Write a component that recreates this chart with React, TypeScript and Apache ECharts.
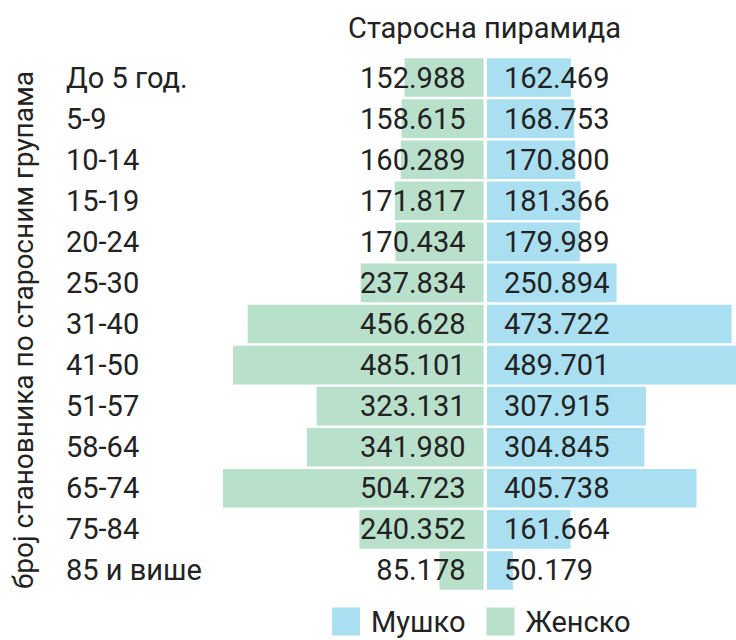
import React, { useEffect, useRef } from "react";
import * as echarts from "echarts";

const categories = ["До 5 год.", "5-9", "10-14", "15-19", "20-24", "25-30", "31-40", "41-50", "51-57", "58-64", "65-74", "75-84", "85 и више"];
const female = [152988, 158615, 160289, 171817, 170434, 237834, 456628, 485101, 323131, 341980, 504723, 240352, 85178];
const male = [162469, 168753, 170800, 181366, 179989, 250894, 473722, 489701, 307915, 304845, 405738, 161664, 50179];
const seriesNames = ["Мушко", "Женско"];
const titleText = "Старосна пирамида";
const axisName = "број становника по старосним групама";

const fmt = (v: number) => String(v).replace(/\B(?=(\d{3})+(?!\d))/g, ".");

export default function App() {
  const ref = useRef<HTMLDivElement>(null);
  useEffect(() => {
    if (!ref.current) return;
    const chart = echarts.init(ref.current, null, { renderer: "svg" });
    const font = "Roboto";
    const color = "#222";
    const FS = 29;
    const MAX = 520000;
    const W = 268.5;
    const option: any = {
      animation: false,
      textStyle: { fontFamily: font },
      title: {
        text: titleText,
        left: 348,
        top: 13,
        padding: 0,
        textStyle: { fontFamily: font, fontSize: FS, fontWeight: "normal", color, lineHeight: 30 },
      },
      legend: {
        data: seriesNames,
        left: 332,
        bottom: 4,
        padding: 0,
        icon: "rect",
        itemWidth: 28,
        itemHeight: 28,
        itemGap: 21,
        textStyle: { fontFamily: font, fontSize: FS, color, padding: [0, 0, 0, 6] },
      },
      graphic: [
        {
          type: "text",
          x: 23,
          y: 330,
          rotation: Math.PI / 2,
          style: {
            text: axisName,
            fontFamily: font,
            fontSize: 28,
            fill: color,
            align: "center",
            verticalAlign: "middle",
          },
        },
      ],
      grid: [
        { left: 215, width: W, top: 57, bottom: 49, outerBoundsMode: "none", containLabel: false },
        { left: 487, width: W, top: 57, bottom: 49, outerBoundsMode: "none", containLabel: false },
      ],
      xAxis: [
        { type: "value", gridIndex: 0, min: 0, max: MAX, inverse: true, show: false },
        { type: "value", gridIndex: 1, min: 0, max: MAX, show: false },
      ],
      yAxis: [
        {
          type: "category",
          gridIndex: 0,
          data: categories,
          inverse: true,
          position: "left",
          axisLine: { show: false },
          axisTick: { show: false },
          axisLabel: { interval: 0, align: "left", margin: 149, fontFamily: font, fontSize: FS, color },
        },
        {
          type: "category",
          gridIndex: 0,
          data: categories,
          inverse: true,
          position: "right",
          z: 10,
          axisLine: { show: false },
          axisTick: { show: false },
          axisLabel: {
            interval: 0,
            inside: true,
            margin: 18,
            align: "right",
            fontFamily: font,
            fontSize: FS,
            color,
            formatter: (_v: string, i: number) => fmt(female[i]),
          },
        },
        {
          type: "category",
          gridIndex: 1,
          data: categories,
          inverse: true,
          position: "left",
          z: 10,
          axisLine: { show: false },
          axisTick: { show: false },
          axisLabel: {
            interval: 0,
            inside: true,
            margin: 17,
            align: "left",
            fontFamily: font,
            fontSize: FS,
            color,
            formatter: (_v: string, i: number) => fmt(male[i]),
          },
        },
      ],
      series: [
        {
          name: seriesNames[0],
          type: "bar",
          xAxisIndex: 1,
          yAxisIndex: 2,
          data: male,
          barCategoryGap: "6%",
          itemStyle: { color: "#aadff1" },
        },
        {
          name: seriesNames[1],
          type: "bar",
          xAxisIndex: 0,
          yAxisIndex: 0,
          data: female,
          barCategoryGap: "6%",
          itemStyle: { color: "#b9e0cb" },
        },
      ],
    };
    chart.setOption(option);
    return () => chart.dispose();
  }, []);
  return <div ref={ref} style={{ position: "absolute", left: 0, top: 0, width: 736, height: 640 }} />;
}
